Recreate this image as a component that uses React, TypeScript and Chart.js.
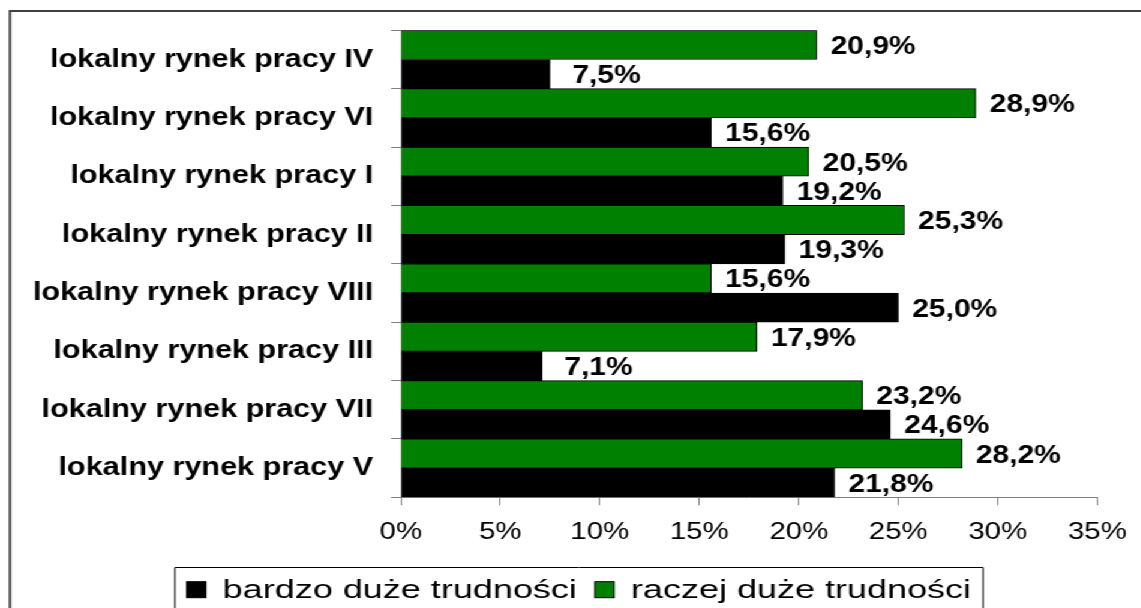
import React, { useEffect, useRef } from 'react';
import { Chart, registerables } from 'chart.js';

Chart.register(...registerables);

const categories = [
  'lokalny rynek pracy IV',
  'lokalny rynek pracy VI',
  'lokalny rynek pracy I',
  'lokalny rynek pracy II',
  'lokalny rynek pracy VIII',
  'lokalny rynek pracy III',
  'lokalny rynek pracy VII',
  'lokalny rynek pracy V',
];
const raczejValues = [20.9, 28.9, 20.5, 25.3, 15.6, 17.9, 23.2, 28.2];
const bardzoValues = [7.5, 15.6, 19.2, 19.3, 25.0, 7.1, 24.6, 21.8];
const seriesNames = ['bardzo duże trudności', 'raczej duże trudności'];
const xMin = 0;
const xMax = 35;
const xStep = 5;

const GREEN = '#008000';
const BLACK = '#000000';
const AXIS = '#808080';
const FONT = '"Liberation Sans", Arial, sans-serif';
const STRETCH = 1.2;

const fmt = (v: number) => v.toFixed(1).replace('.', ',') + '%';

export default function App() {
  const ref = useRef<HTMLCanvasElement>(null);

  useEffect(() => {
    if (!ref.current) return;

    const valueLabels = {
      id: 'valueLabels',
      afterDatasetsDraw(chart: any) {
        const ctx = chart.ctx;
        ctx.save();
        ctx.font = `bold 25px ${FONT}`;
        ctx.fillStyle = BLACK;
        ctx.textAlign = 'center';
        ctx.textBaseline = 'alphabetic';
        chart.data.datasets.forEach((ds: any, di: number) => {
          const meta = chart.getDatasetMeta(di);
          meta.data.forEach((el: any, i: number) => {
            const v = ds.data[i] as number;
            ctx.fillText(fmt(v), el.x + 47, el.y + 9);
          });
        });
        ctx.restore();
      },
    };

    const frame = {
      id: 'frame',
      afterDraw(chart: any) {
        const ctx = chart.ctx;
        const W = chart.width;
        const H = chart.height;
        ctx.save();
        // outer border (top and left)
        ctx.strokeStyle = '#404040';
        ctx.lineWidth = 2;
        ctx.beginPath();
        ctx.moveTo(8.3, H + 5);
        ctx.lineTo(8.3, 11);
        ctx.lineTo(W + 5, 11);
        ctx.stroke();

        // legend
        const boxLeft = 145.8;
        const boxTop = 567.5;
        const boxRight = 819.2;
        ctx.lineWidth = 1;
        ctx.strokeStyle = BLACK;
        ctx.fillStyle = '#ffffff';
        ctx.beginPath();
        ctx.rect(boxLeft, boxTop, boxRight - boxLeft, H + 10 - boxTop);
        ctx.fill();
        ctx.stroke();

        ctx.font = `25px ${FONT}`;
        ctx.textBaseline = 'alphabetic';
        ctx.textAlign = 'left';
        const colors = [BLACK, GREEN];
        let x = boxLeft + 9.8;
        const sqTop = 581.7;
        const baseline = 598.3;
        seriesNames.forEach((name, i) => {
          ctx.fillStyle = colors[i];
          ctx.fillRect(x, sqTop, 16, 16);
          ctx.strokeStyle = BLACK;
          ctx.strokeRect(x, sqTop, 16, 16);
          x += 16 + 14;
          ctx.save();
          ctx.translate(x, baseline);
          ctx.scale(STRETCH, 1);
          ctx.fillStyle = BLACK;
          ctx.fillText(name, 0, 0);
          ctx.restore();
          x += ctx.measureText(name).width * STRETCH + 15;
        });
        ctx.restore();
      },
    };

    const chart = new Chart(ref.current, {
      type: 'bar',
      data: {
        labels: categories,
        datasets: [
          {
            label: seriesNames[1],
            data: raczejValues,
            backgroundColor: GREEN,
            borderColor: BLACK,
            borderWidth: 1,
            categoryPercentage: 1,
            barPercentage: 1,
          },
          {
            label: seriesNames[0],
            data: bardzoValues,
            backgroundColor: BLACK,
            borderColor: BLACK,
            borderWidth: 1,
            categoryPercentage: 1,
            barPercentage: 1,
          },
        ],
      },
      options: {
        indexAxis: 'y',
        animation: false,
        responsive: true,
        maintainAspectRatio: false,
        layout: { padding: { left: 0, top: 26.7, right: 36.6, bottom: 60.7 } },
        plugins: {
          legend: { display: false },
          tooltip: { enabled: false },
        },
        scales: {
          x: {
            min: xMin,
            max: xMax,
            ticks: {
              stepSize: xStep,
              autoSkip: false,
              maxRotation: 0,
              callback: (v: any) => v + '%',
              color: BLACK,
              font: { family: FONT, size: 24.5 },
              padding: 12,
            },
            grid: { drawOnChartArea: false, tickLength: 8, color: AXIS },
            border: { color: AXIS, width: 1 },
            afterFit: (s: any) => {
              s.height = 50;
            },
          },
          y: {
            ticks: {
              color: BLACK,
              autoSkip: false,
              font: { family: FONT, size: 25.5, weight: 'bold' },
              padding: 15,
            },
            grid: { offset: true, drawOnChartArea: false, tickLength: 8, color: AXIS },
            border: { color: AXIS, width: 1 },
            afterFit: (s: any) => {
              s.width = 334;
            },
          },
        },
      } as any,
      plugins: [valueLabels, frame],
    });

    return () => chart.destroy();
  }, []);

  return (
    <div
      style={{
        position: 'fixed',
        left: 0,
        top: 0,
        width: 951,
        height: 608,
        transform: `scaleX(${STRETCH})`,
        transformOrigin: '0 0',
        background: '#fff',
      }}
    >
      <canvas ref={ref} />
    </div>
  );
}
